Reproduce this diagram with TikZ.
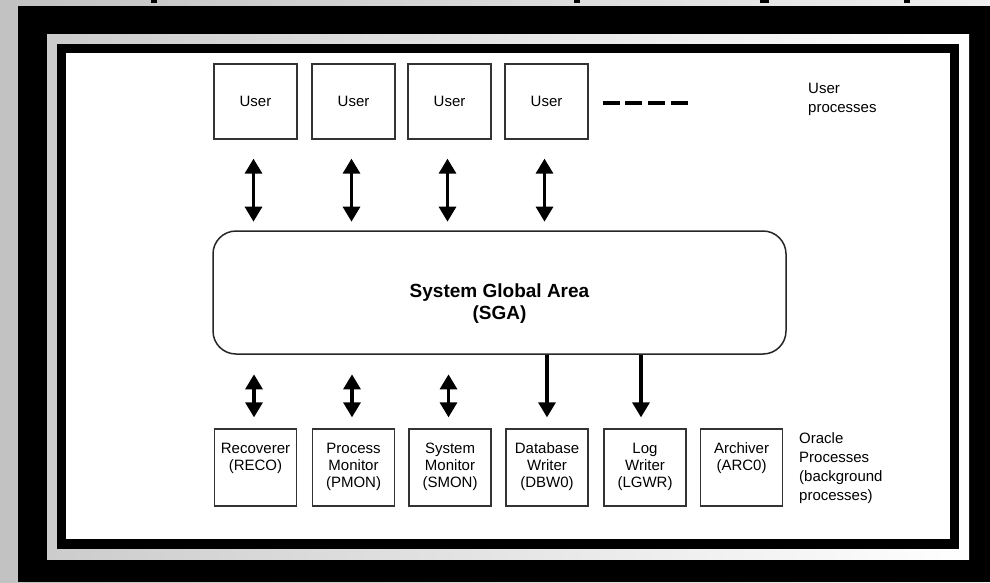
\documentclass[tikz,border=0pt]{standalone}
\usepackage{fontspec}
\setmainfont{Liberation Sans}
\usetikzlibrary{arrows.meta}
\begin{document}
\begin{tikzpicture}[x=1pt,y=-1pt,
  ubox/.style={draw=black!80, fill=white, line width=1.3pt, minimum width=83pt, minimum height=75pt, inner sep=0pt, font=\fontsize{15}{17}\selectfont},
  obox/.style={draw=black!80, fill=white, line width=1.3pt, minimum width=82pt, minimum height=77pt, inner sep=0pt},
  btext/.style={anchor=north, inner sep=0pt, yshift=-14.5pt, align=center, font=\fontsize{15}{17}\selectfont},
  sgatext/.style={inner sep=0pt, yshift=-11pt, align=center, font=\bfseries\fontsize{19}{22.5}\selectfont},
  rlabel/.style={anchor=north west, inner sep=0pt, align=left, font=\fontsize{15}{19}\selectfont},
  dbl/.style={line width=3.2pt, {Triangle[width=17pt,length=15pt]}-{Triangle[width=17pt,length=15pt]}},
  sgl/.style={line width=3.2pt, -{Triangle[width=17pt,length=15pt]}},
  dashline/.style={line width=4pt, dash pattern=on 17pt off 5.7pt}
]
\useasboundingbox (0,0) rectangle (990,582);
% background and frame
\shade[left color=black!24, right color=black!6] (0,0) rectangle (990,582);
\fill[black] (151,0) rectangle (157,3);
\fill[black] (574,0) rectangle (580,3);
\fill[black] (760,0) rectangle (769,3);
\fill[black] (904,0) rectangle (910,3);
\fill[black] (18,6) rectangle (990,582);
\shade[left color=black!20, right color=white] (47,34) rectangle (969,559);
\fill[black] (57,44) rectangle (959,549);
\fill[white] (66,53) rectangle (950,539);

% user processes
\node[ubox] (u1) at (255.5,101.5) {User};
\node[ubox] (u2) at (353.5,101.5) {User};
\node[ubox] (u3) at (449.5,101.5) {User};
\node[ubox] (u4) at (546.5,101.5) {User};
\draw[dashline] ([xshift=14pt,yshift=-1.5pt]u4.east) -- ++(85,0);
\node[rlabel] (ulab) at (808,82.5) {User\\processes};

% SGA
\node[draw=black!85, line width=1.5pt, rounded corners=23pt, minimum width=573pt, minimum height=123pt,
  label={[sgatext]center:{System Global Area\\(SGA)}}] (sga) at (499.5,292.5) {};

% oracle processes
\node[obox, label={[btext]north:{Recoverer\\(RECO)}}] (r1) at (255.5,467.5) {};
\node[obox, label={[btext]north:{Process\\Monitor\\(PMON)}}] (r2) at (353.5,467.5) {};
\node[obox, label={[btext]north:{System\\Monitor\\(SMON)}}] (r3) at (450,467.5) {};
\node[obox, label={[btext]north:{Database\\Writer\\(DBW0)}}] (r4) at (547,467.5) {};
\node[obox, label={[btext]north:{Log\\Writer\\(LGWR)}}] (r5) at (645,467.5) {};
\node[obox, label={[btext]north:{Archiver\\(ARC0)}}] (r6) at (741.5,467.5) {};
\node[rlabel] (olab) at (799,432.5) {Oracle\\Processes\\(background\\processes)};

% arrows user <-> SGA
\foreach \i in {1,2,3,4}{
  \draw[dbl] ([xshift=-2pt,yshift=-19pt]u\i.south) -- ++(0,63);
}
% arrows SGA <-> background processes
\foreach \i in {1,2,3}{
  \draw[dbl] ([xshift=-1.5pt,yshift=11pt]r\i.north) -- ++(0,-43);
}
\draw[sgl] (sga.south -| r4.north) -- ([yshift=11pt]r4.north);
\draw[sgl] ([xshift=-4pt]sga.south -| r5.north) -- ([xshift=-4pt,yshift=11pt]r5.north);
\end{tikzpicture}
\end{document}
